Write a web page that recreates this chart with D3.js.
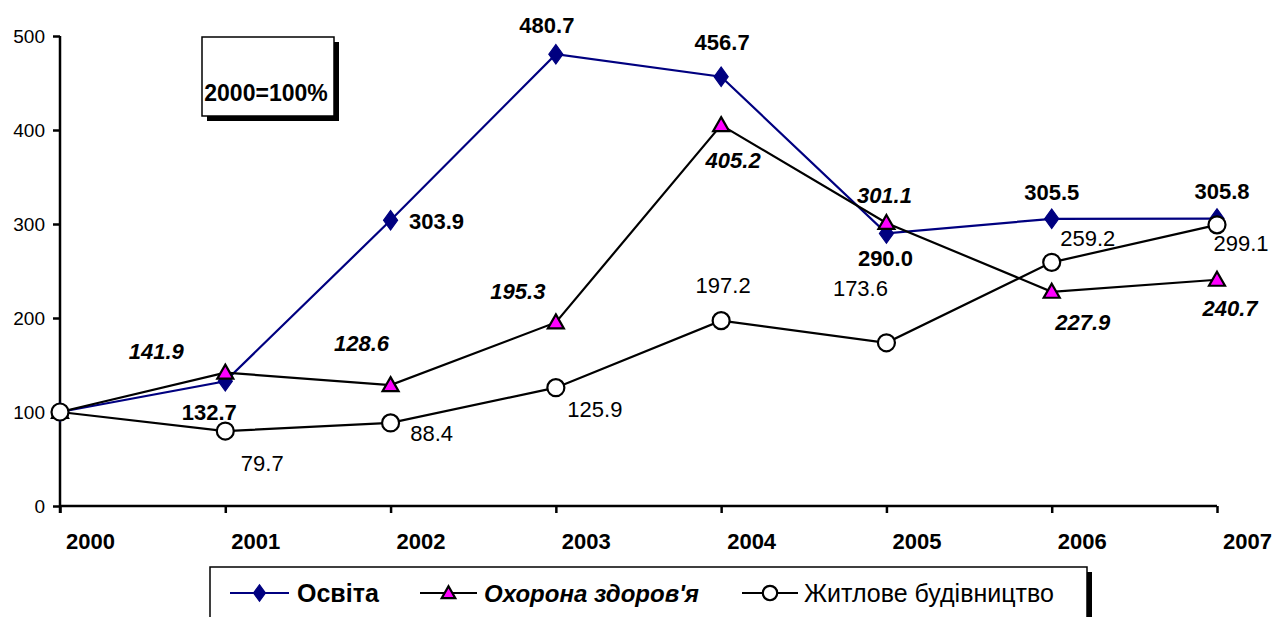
<!DOCTYPE html>
<html>
<head>
<meta charset="utf-8">
<script src="https://cdn.jsdelivr.net/npm/d3@7"></script>
<style>
  body { margin: 0; background: #fff; }
  svg { display: block; font-family: "Liberation Sans", Arial, sans-serif; }
</style>
</head>
<body>
<div id="chart"></div>
<script>
// data
var years = ['2000', '2001', '2002', '2003', '2004', '2005', '2006', '2007'];
var osvita = [100, 132.7, 303.9, 480.7, 456.7, 290.0, 305.5, 305.8];
var okhorona = [100, 141.9, 128.6, 195.3, 405.2, 301.1, 227.9, 240.7];
var zhytlove = [100, 79.7, 88.4, 125.9, 197.2, 173.6, 259.2, 299.1];
var yTicks = [0, 100, 200, 300, 400, 500];
var seriesNames = ['Освіта', "Охорона здоров'я", 'Житлове будівництво'];

// label placement relative to the point (dx, dy), first point has no label
var osvitaLabelPos = [null, [-16, 31], [46, 1], [-9, -29], [1, -35], [-1, 25], [0, -27], [5, -27]];
var okhoronaLabelPos = [null, [-69, -22], [-29, -42], [-38, -31], [12, 35], [-2, -28], [31, 30], [13, 28]];
var zhytloveLabelPos = [null, [37, 32], [41, 10], [39, 21], [2, -36], [-26, -55], [36, -24], [24, 18]];

var width = 1273, height = 617;
var svg = d3.select('#chart').append('svg')
  .attr('width', width)
  .attr('height', height);

var x = d3.scalePoint().domain(years).range([60, 1217]);
var y = d3.scaleLinear().domain([0, 500]).range([506, 36]);

// y axis
var yAxis = d3.axisLeft(y).tickValues(yTicks).tickSize(7).tickPadding(8).tickFormat(d3.format('d'));
var gy = svg.append('g').attr('transform', 'translate(60,0)').call(yAxis);
gy.select('.domain').attr('stroke', '#000').attr('stroke-width', 2.5).attr('d', 'M0,36V513');
gy.selectAll('.tick line').attr('stroke', '#000').attr('stroke-width', 2.5);
gy.selectAll('.tick text').attr('font-size', 19).attr('fill', '#000')
  .attr('font-family', '"Liberation Sans", Arial, sans-serif');

// x axis
var xAxis = d3.axisBottom(x).tickSize(7).tickSizeOuter(0).tickPadding(20);
var gx = svg.append('g').attr('transform', 'translate(0,506)').call(xAxis);
gx.select('.domain').attr('stroke', '#000').attr('stroke-width', 2.5).attr('d', 'M60,0H1217');
gx.selectAll('.tick line').attr('stroke', '#000').attr('stroke-width', 2.5);
gx.selectAll('.tick text').attr('font-size', 22).attr('font-weight', 'bold').attr('fill', '#000')
  .attr('dx', 30)
  .attr('font-family', '"Liberation Sans", Arial, sans-serif');

// "2000=100%" box with shadow
svg.append('rect').attr('x', 207).attr('y', 42).attr('width', 132).attr('height', 79).attr('fill', '#000');
svg.append('rect').attr('x', 202).attr('y', 37).attr('width', 132).attr('height', 79)
  .attr('fill', '#fff').attr('stroke', '#000').attr('stroke-width', 1.5);
svg.append('text').attr('x', 266).attr('y', 93).attr('dy', '0.36em').attr('text-anchor', 'middle')
  .attr('font-size', 23).attr('font-weight', 'bold').text('2000=100%');

var line = d3.line()
  .x(function(d, i) { return x(years[i]); })
  .y(function(d) { return y(d); });

var series = [
  { values: osvita, color: '#000080', marker: 'diamond', labels: osvitaLabelPos, weight: 'bold', style: 'normal' },
  { values: okhorona, color: '#000', marker: 'triangle', labels: okhoronaLabelPos, weight: 'bold', style: 'italic' },
  { values: zhytlove, color: '#000', marker: 'circle', labels: zhytloveLabelPos, weight: 'normal', style: 'normal' }
];

function drawMarker(g, type, cx, cy, k) {
  k = k || 1;
  if (type === 'diamond') {
    g.append('path').attr('d', d3.symbol().type(d3.symbolDiamond).size(110 * k * k)())
      .attr('transform', 'translate(' + cx + ',' + cy + ') scale(1.25,1)')
      .attr('fill', '#000080').attr('stroke', '#000080').attr('stroke-width', 1);
  } else if (type === 'triangle') {
    g.append('path').attr('d', 'M0,-8L8,6H-8Z')
      .attr('transform', 'translate(' + cx + ',' + cy + ') scale(' + k + ')')
      .attr('fill', '#ff00ff').attr('stroke', '#000').attr('stroke-width', 2.2 / k).attr('stroke-linejoin', 'miter');
  } else {
    g.append('circle').attr('cx', cx).attr('cy', cy).attr('r', 8.5 * k)
      .attr('fill', '#fff').attr('stroke', '#000').attr('stroke-width', 2.2);
  }
}

series.forEach(function(s) {
  svg.append('path').datum(s.values)
    .attr('d', line)
    .attr('fill', 'none')
    .attr('stroke', s.color)
    .attr('stroke-width', 2.2);
});

series.forEach(function(s) {
  var g = svg.append('g');
  s.values.forEach(function(v, i) {
    drawMarker(g, s.marker, x(years[i]), y(v));
  });
});

series.forEach(function(s) {
  s.values.forEach(function(v, i) {
    var p = s.labels[i];
    if (!p) return;
    svg.append('text')
      .attr('x', x(years[i]) + p[0])
      .attr('y', y(v) + p[1])
      .attr('dy', '0.36em')
      .attr('text-anchor', 'middle')
      .attr('font-size', 22)
      .attr('font-weight', s.weight)
      .attr('font-style', s.style)
      .attr('fill', '#000')
      .text(d3.format('.1f')(v));
  });
});

// legend
var lg = svg.append('g');
lg.append('rect').attr('x', 215).attr('y', 572).attr('width', 877).attr('height', 60).attr('fill', '#000');
lg.append('rect').attr('x', 210).attr('y', 567).attr('width', 877).attr('height', 60)
  .attr('fill', '#fff').attr('stroke', '#000').attr('stroke-width', 1.5);

var legendItems = [
  { x0: 230, x1: 289, tx: 297, weight: 'bold', style: 'normal' },
  { x0: 420, x1: 477, tx: 484, weight: 'bold', style: 'italic' },
  { x0: 742, x1: 798, tx: 804, weight: 'normal', style: 'normal' }
];
legendItems.forEach(function(it, i) {
  var s = series[i];
  var ly = 593;
  lg.append('line').attr('x1', it.x0).attr('x2', it.x1).attr('y1', ly).attr('y2', ly)
    .attr('stroke', s.color).attr('stroke-width', 2.2);
  drawMarker(lg, s.marker, (it.x0 + it.x1) / 2, ly, 0.85);
  lg.append('text').attr('x', it.tx).attr('y', ly).attr('dy', '0.36em')
    .attr('font-size', it.style === 'italic' ? 24 : 25).attr('font-weight', it.weight).attr('font-style', it.style)
    .text(seriesNames[i]);
});
</script>
</body>
</html>
